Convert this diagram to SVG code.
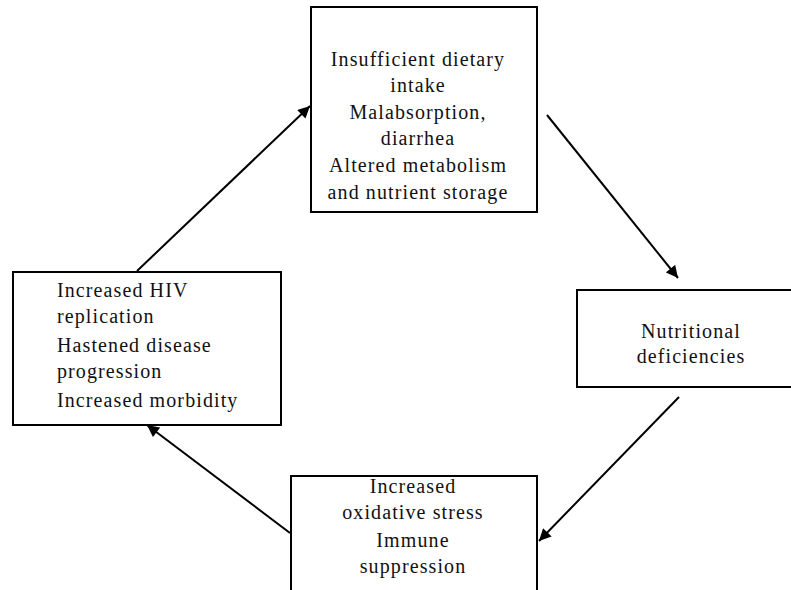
<svg xmlns="http://www.w3.org/2000/svg" width="791" height="590" viewBox="0 0 791 590">
<defs>
<marker id="ah" viewBox="0 0 10 10" refX="10" refY="5" markerWidth="6.5" markerHeight="6" orient="auto" markerUnits="strokeWidth">
<path d="M0,0 L10,5 L0,10 z" fill="#000"/>
</marker>
<style>
.box{fill:#fff;stroke:#000;stroke-width:2}
.t{font-family:'Liberation Serif','Times New Roman',serif;font-size:20px;fill:#111;letter-spacing:1.1px}
.c{text-anchor:middle}
.ln{stroke:#000;stroke-width:2;fill:none;marker-end:url(#ah)}
</style>
</defs>
<rect width="791" height="590" fill="#fff"/>
<g id="connectors">
<line class="ln" x1="137" y1="271" x2="310" y2="106"/>
<line class="ln" x1="547" y1="115" x2="678" y2="278"/>
<line class="ln" x1="679" y1="397" x2="539" y2="541"/>
<line class="ln" x1="290" y1="533" x2="147" y2="425"/>
</g>
<g id="top">
<rect class="box" x="311" y="7" width="226" height="205"/>
<text class="t c" x="418" y="66">Insufficient dietary</text>
<text class="t c" x="418" y="92">intake</text>
<text class="t c" x="418" y="119">Malabsorption,</text>
<text class="t c" x="418" y="145">diarrhea</text>
<text class="t c" x="418" y="172">Altered metabolism</text>
<text class="t c" x="418" y="199">and nutrient storage</text>
</g>
<g id="right">
<rect class="box" x="577" y="290" width="220" height="97"/>
<text class="t c" x="691" y="338">Nutritional</text>
<text class="t c" x="691" y="363">deficiencies</text>
</g>
<g id="bottom">
<rect class="box" x="291" y="476" width="246" height="130"/>
<text class="t c" x="413" y="493">Increased</text>
<text class="t c" x="413" y="519">oxidative stress</text>
<text class="t c" x="413" y="547">Immune</text>
<text class="t c" x="413" y="573">suppression</text>
</g>
<g id="left">
<rect class="box" x="13" y="272" width="268" height="153"/>
<text class="t" x="57" y="297">Increased HIV</text>
<text class="t" x="57" y="323">replication</text>
<text class="t" x="57" y="352">Hastened disease</text>
<text class="t" x="57" y="378">progression</text>
<text class="t" x="57" y="407">Increased morbidity</text>
</g>
</svg>
